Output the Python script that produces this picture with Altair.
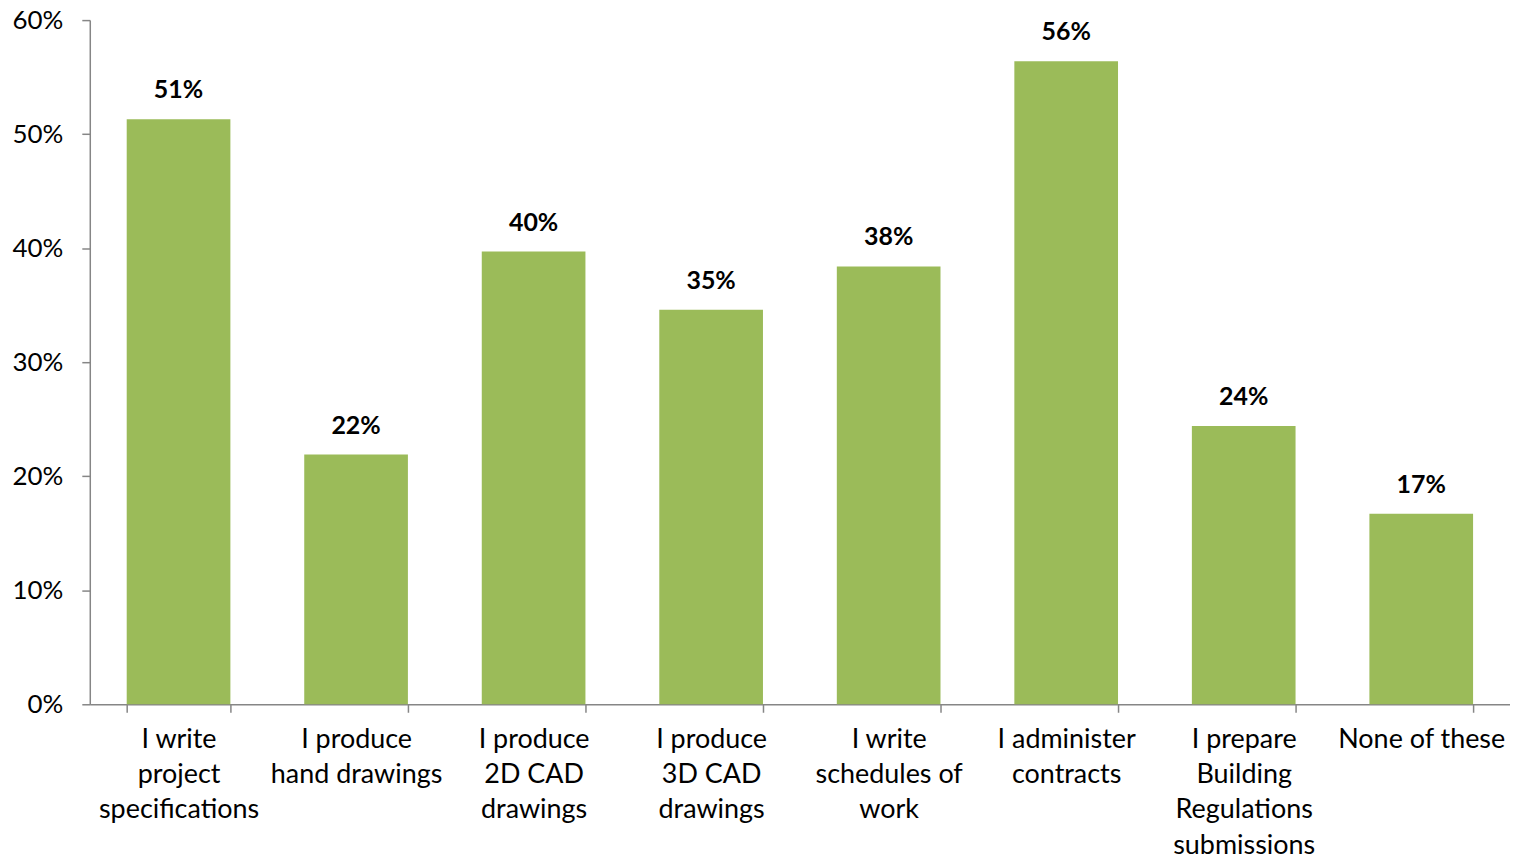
import altair as alt
import pandas as pd

categories = [
    "I write|project|specifications",
    "I produce|hand drawings",
    "I produce|2D CAD|drawings",
    "I produce|3D CAD|drawings",
    "I write|schedules of|work",
    "I administer|contracts",
    "I prepare|Building|Regulations|submissions",
    "None of these",
]
values = [0.513, 0.219, 0.397, 0.346, 0.384, 0.564, 0.244, 0.167]

df = pd.DataFrame({"cat": categories, "val": values})

FONT = "Lato"
AXIS_COLOR = "#868686"

x = alt.X(
    "cat:N",
    sort=categories,
    title=None,
    scale=alt.Scale(paddingInner=0.416, paddingOuter=0.208),
    axis=alt.Axis(
        labelExpr="split(datum.label, '|')",
        labelAngle=0,
        labelFont=FONT,
        labelFontSize=27,
        labelColor="#000000",
        labelLineHeight=35.5,
        labelBaseline="top",
        labelPadding=14,
        tickBand="extent",
        tickSize=8,
        tickColor=AXIS_COLOR,
        domainColor=AXIS_COLOR,
        domainWidth=1.5,
        tickWidth=1.5,
        labelLimit=300,
    ),
)
y = alt.Y(
    "val:Q",
    title=None,
    scale=alt.Scale(domain=[0, 0.6], nice=False),
    axis=alt.Axis(
        format=".0%",
        values=[0, 0.1, 0.2, 0.3, 0.4, 0.5, 0.6],
        grid=False,
        labelFont=FONT,
        labelFontSize=26,
        labelColor="#000000",
        labelPadding=19,
        tickSize=8,
        tickColor=AXIS_COLOR,
        domainColor=AXIS_COLOR,
        domainWidth=1.5,
        tickWidth=1.5,
    ),
)

bars = alt.Chart(df).mark_bar(color="#9BBB59").encode(x=x, y=y)
labels = alt.Chart(df).mark_text(
    font=FONT, fontSize=25, fontWeight="bold", color="#000000", dy=-29
).encode(x=alt.X("cat:N", sort=categories), y="val:Q", text=alt.Text("val:Q", format=".0%"))

chart = (
    alt.layer(bars, labels)
    .properties(
        width=1424,
        height=686,
        autosize=alt.AutoSizeParams(type="none"),
        padding={"left": 82, "top": 11, "right": 0, "bottom": 154},
    )
    .configure_view(stroke=None)
)

chart.save("out.html", embed_options={"renderer": "svg", "actions": False})
